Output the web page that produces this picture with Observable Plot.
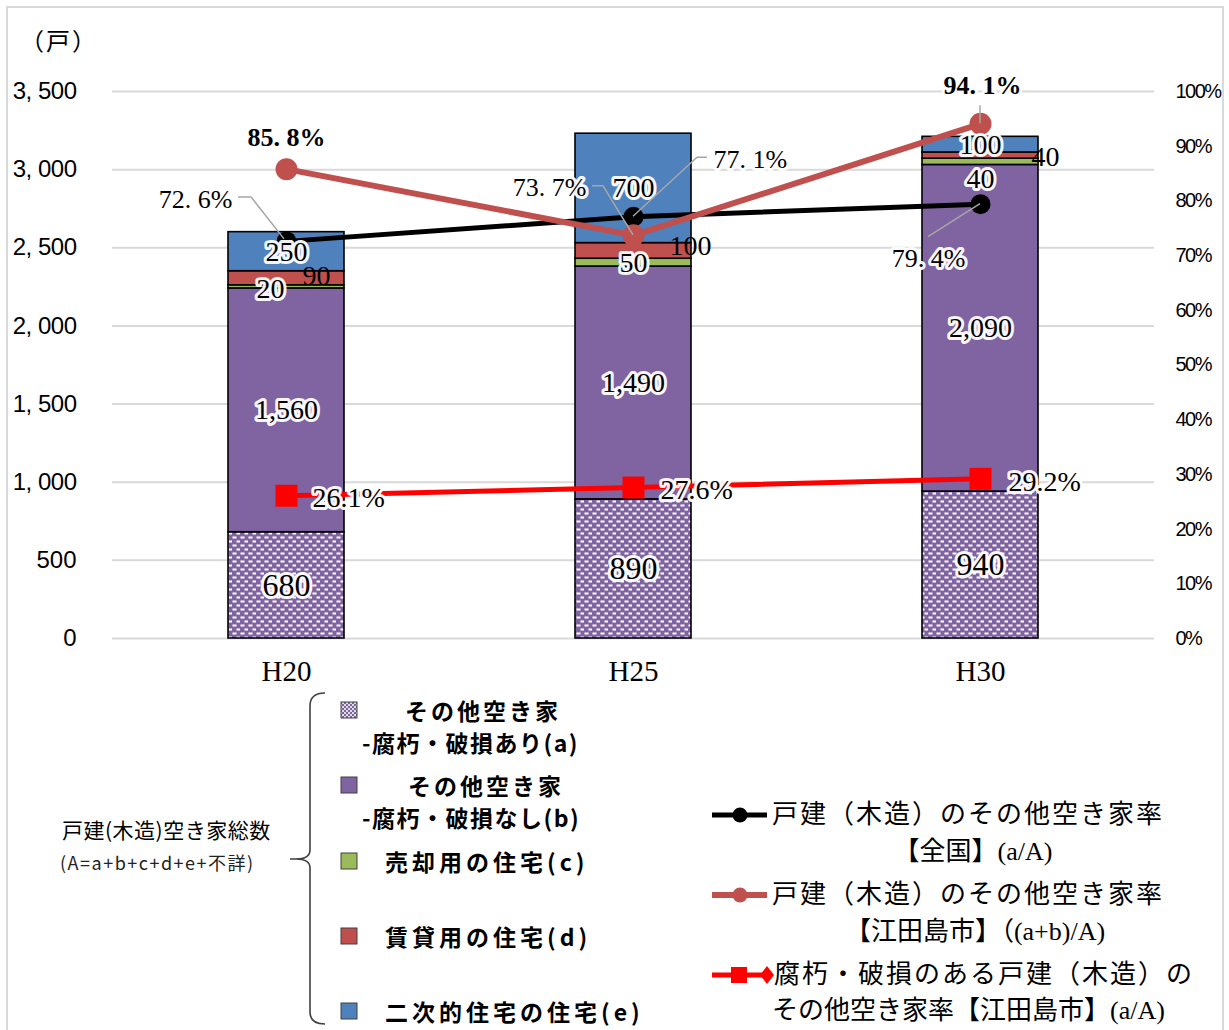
<!DOCTYPE html>
<html><head><meta charset="utf-8">
<script src="https://cdn.jsdelivr.net/npm/d3@7"></script>
<script src="https://cdn.jsdelivr.net/npm/@observablehq/plot@0.6"></script>
<style>
body{margin:0;background:#fff;}
#page{position:relative;width:1229px;height:1030px;overflow:hidden;background:#fff;}
#frame{position:absolute;left:6px;top:6px;width:1218px;height:1040px;border:2px solid #d9d9d9;box-sizing:border-box;}
#chart{position:absolute;left:0;top:0;}
#legendSvg{position:absolute;left:0;top:0;}
.t{position:absolute;white-space:nowrap;line-height:1;color:#000;}
</style></head>
<body><div id="page"><div id="frame"></div><div id="chart"></div><svg id="legendSvg" width="1229" height="1030"></svg></div>
<script>
// ---------------- data ----------------
const years = ["H20", "H25", "H30"];
const categories = ["a", "b", "c", "d", "e"];
const rottenVacant = [680, 890, 940];        // (a)
const otherVacant = [1560, 1490, 2090];      // (b)
const forSale = [20, 50, 40];                // (c)
const forRent = [90, 100, 40];               // (d)
const secondary = [250, 700, 100];           // (e)
const rateNational = [72.6, 77.1, 79.4];     // 全国 (a/A)
const rateEtajima = [85.8, 73.7, 94.1];      // 江田島市 ((a+b)/A)
const rateRotten = [26.1, 27.6, 29.2];       // 江田島市 (a/A)
const yTicks = [0, 500, 1000, 1500, 2000, 2500, 3000, 3500];
const pctTicks = [0, 10, 20, 30, 40, 50, 60, 70, 80, 90, 100];
const unitLabel = "（戸）";
const groupLabel = ["戸建(木造)空き家総数", "(A=a+b+c+d+e+不詳)"];
const barLegend = [
  ["その他空き家", "-腐朽・破損あり(a)"],
  ["その他空き家", "-腐朽・破損なし(b)"],
  ["売却用の住宅(c)"],
  ["賃貸用の住宅(d)"],
  ["二次的住宅の住宅(e)"]
];
const lineLegend = [
  ["戸建（木造）のその他空き家率", "【全国】(a/A)"],
  ["戸建（木造）のその他空き家率", "【江田島市】（(a+b)/A)"],
  ["腐朽・破損のある戸建（木造）の", "その他空き家率【江田島市】(a/A)"]
];

// ---------------- styles ----------------
const SERIF = '"Liberation Serif","DejaVu Serif","Noto Sans CJK JP",serif';
const SANSN = '"Liberation Sans Narrow","Liberation Sans","Noto Sans CJK JP",sans-serif';
const CJK = '"Noto Sans CJK JP",sans-serif';
const PCT = 35; // 3500 units on left axis == 100% on right axis
const barColors = ["url(#dots)", "#8064A2", "#9BBB59", "#C0504D", "#4F81BD"];
const lineColors = ["#000000", "#C0504D", "#FF0000"];
const lineWidths = [5, 6, 5];
const markerR = [10, 11, 12.4];
const markerSym = ["circle", "circle", "square"];
const barLabelNudge = {
  "H20|c": {dx: -16, dy: 2}, "H20|d": {dx: 30, dy: -2, halo: false},
  "H25|d": {dx: 57, dy: -5, halo: false},
  "H30|c": {dx: 0, dy: 17}, "H30|d": {dx: 65, dy: 1, halo: false}
};
const pctPlacement = [
  [{dx: -54, dy: -42, a: "end"}, {dx: 80, dy: -57, a: "start"}, {dx: -52, dy: 54, a: "middle"}],
  [{dx: 0, dy: -32, a: "middle", b: true}, {dx: -47, dy: -48, a: "end"}, {dx: 2, dy: -38, a: "middle", b: true}],
  [{dx: 26, dy: 2, a: "start"}, {dx: 27, dy: 3, a: "start"}, {dx: 28, dy: 3, a: "start"}]
];
const leaders = [
  {s: 0, i: 0, pts: [[-48, -44], [-35, -44], [-2, -2]]},
  {s: 1, i: 1, pts: [[-41, -49], [-30, -49], [0, 0]]},
  {s: 0, i: 1, pts: [[74, -59], [64, -59], [0, 0]]},
  {s: 1, i: 2, pts: [[0, -18], [0, 0]]},
  {s: 0, i: 2, pts: [[-52, 33], [0, 0]]}
];

// ---------------- build rows ----------------
const barSeries = [rottenVacant, otherVacant, forSale, forRent, secondary];
const rows = [];
years.forEach((yr, i) => {
  let base = 0;
  categories.forEach((c, k) => {
    const v = barSeries[k][i];
    rows.push({year: yr, cat: c, value: v, mid: base + v / 2});
    base += v;
  });
});
const rateSeries = [rateNational, rateEtajima, rateRotten];
const lineRows = rateSeries.map(vals => years.map((yr, i) => ({year: yr, pct: vals[i]})));

const fmtComma = d3.format(",");
const marks = [
  Plot.gridY(yTicks, {stroke: "#d9d9d9", strokeOpacity: 1, strokeWidth: 2}),
  Plot.barY(rows, {x: "year", y: "value", fill: "cat", stroke: "#000", strokeWidth: 1.6}),
  Plot.axisY({ticks: yTicks, tickSize: 0, tickPadding: 36, label: null,
    tickFormat: d => fmtComma(d).replace(",", ", "), fontSize: 24, fontFamily: SANSN}),
  Plot.axisY({anchor: "right", ticks: pctTicks.map(p => p * PCT), tickSize: 0, tickPadding: 21, label: null,
    tickFormat: d => Math.round(d / PCT) + "%", fontSize: 20, fontFamily: SANSN}),
  Plot.axisX({tickSize: 0, tickPadding: 22, label: null, fontSize: 29, fontFamily: SERIF})
];
lineRows.forEach((lr, s) => {
  marks.push(Plot.line(lr, {x: "year", y: d => d.pct * PCT, stroke: lineColors[s], strokeWidth: lineWidths[s]}));
  marks.push(Plot.dot(lr, {x: "year", y: d => d.pct * PCT, r: markerR[s], fill: lineColors[s], symbol: markerSym[s]}));
});
rows.forEach(r => {
  const n = barLabelNudge[r.year + "|" + r.cat] || {dx: 0, dy: 0};
  const halo = n.halo !== false;
  marks.push(Plot.text([r], {
    x: "year", y: "mid", text: d => fmtComma(d.value), dx: n.dx, dy: n.dy,
    fontSize: r.cat === "a" ? 32 : 28, fontFamily: SERIF, fill: "#000",
    stroke: halo ? "white" : "none", strokeWidth: halo ? 6 : 0, strokeOpacity: 0.95, paintOrder: "stroke", strokeLinejoin: "round"
  }));
});
lineRows.forEach((lr, s) => {
  lr.forEach((d, i) => {
    const p = pctPlacement[s][i];
    const txt = s === 2 ? d3.format(".1f")(d.pct) + "%" : d3.format(".1f")(d.pct).replace(".", ". ") + "%";
    marks.push(Plot.text([d], {
      x: "year", y: dd => dd.pct * PCT, text: () => txt, dx: p.dx, dy: p.dy, textAnchor: p.a,
      fontSize: s === 2 ? 28 : 26, fontWeight: p.b ? "bold" : "normal", fontFamily: SERIF, fill: "#000",
      stroke: "white", strokeWidth: 6, strokeOpacity: 0.95, paintOrder: "stroke", strokeLinejoin: "round"
    }));
  });
});

const plot = Plot.plot({
  width: 1229, height: 700,
  marginLeft: 112, marginRight: 75, marginTop: 91, marginBottom: 62,
  x: {domain: years, paddingInner: 0.666, paddingOuter: 0.334, axis: null},
  y: {domain: [0, 3500], axis: null},
  color: {domain: categories, range: barColors},
  style: {fontFamily: SERIF, color: "#000", background: "transparent", overflow: "visible"},
  marks
});
// pattern for (a)
const svg = d3.select(plot);
const defs = svg.insert("defs", ":first-child");
const pat = defs.append("pattern").attr("id", "dots").attr("patternUnits", "userSpaceOnUse").attr("width", 8).attr("height", 8);
pat.append("rect").attr("width", 8).attr("height", 8).attr("fill", "#8064A2");
pat.append("rect").attr("x", 0.5).attr("y", 0.5).attr("width", 4).attr("height", 2).attr("fill", "#fff");
pat.append("rect").attr("x", 4.5).attr("y", 4.5).attr("width", 4).attr("height", 2).attr("fill", "#fff");
// condense axis tick label texts a little
svg.selectAll("text").filter(function () { return /^\d+%$/.test(this.textContent); }).style("letter-spacing", "-1.5px");
svg.selectAll("text").filter(function () { return /^\d, \d{3}$/.test(this.textContent); }).style("letter-spacing", "-0.5px");
document.getElementById("chart").appendChild(plot);

// leader lines through the plot's scales
const sx = plot.scale("x"), sy = plot.scale("y");
const gL = svg.append("g").attr("fill", "none").attr("stroke", "#a6a6a6").attr("stroke-width", 1.5);
leaders.forEach(L => {
  const cx = sx.apply(years[L.i]) + sx.bandwidth / 2;
  const cy = sy.apply(rateSeries[L.s][L.i] * PCT);
  gL.append("polyline").attr("points", L.pts.map(p => (cx + p[0]) + "," + (cy + p[1])).join(" "));
});

// ---------------- legend & texts ----------------
const page = document.getElementById("page");
function txt(s, x, y, o = {}) {
  const el = document.createElement("div");
  el.className = "t";
  el.textContent = s;
  el.style.left = x + "px"; el.style.top = y + "px";
  el.style.fontFamily = o.font || CJK;
  el.style.fontSize = (o.size || 22) + "px";
  el.style.fontWeight = o.weight || "normal";
  el.style.letterSpacing = (o.ls || 0) + "px";
  if (o.color) el.style.color = o.color;
  el.style.transform = o.center ? "translate(-50%,-50%)" : "translate(0,-50%)";
  page.appendChild(el);
}
txt(unitLabel, 20, 40, {size: 24, ls: 2});

const lg = d3.select("#legendSvg");
const ldefs = lg.append("defs");
const p2 = ldefs.append("pattern").attr("id", "dots2").attr("patternUnits", "userSpaceOnUse").attr("width", 4).attr("height", 4);
p2.append("rect").attr("width", 4).attr("height", 4).attr("fill", "#8064A2");
p2.append("rect").attr("width", 2).attr("height", 2).attr("fill", "#ddd");
p2.append("rect").attr("x", 2).attr("y", 2).attr("width", 2).attr("height", 2).attr("fill", "#ddd");
lg.append("path").attr("d", "M325,693 Q310,693 310,706 L310,850 Q310,859 296,859 L290,859 M296,859 Q310,859 310,868 L310,1012 Q310,1024 325,1024")
  .attr("fill", "none").attr("stroke", "#404040").attr("stroke-width", 1.6);

const legendSwatchFill = ["url(#dots2)", "#8064A2", "#9BBB59", "#C0504D", "#4F81BD"];
const squareY = [710, 785, 861, 936, 1011];
squareY.forEach((y, k) => {
  lg.append("rect").attr("x", 341).attr("y", y - 8).attr("width", 16).attr("height", 16)
    .attr("fill", legendSwatchFill[k]).attr("stroke", "#404040").attr("stroke-width", 1);
});
txt(barLegend[0][0], 405, 710, {weight: "bold", size: 23, ls: 3});
txt(barLegend[0][1], 362, 742, {weight: "bold", size: 23, ls: 1.5});
txt(barLegend[1][0], 408, 785, {weight: "bold", size: 23, ls: 3});
txt(barLegend[1][1], 362, 817, {weight: "bold", size: 23, ls: 1.5});
txt(barLegend[2][0], 385, 861, {weight: "bold", size: 23, ls: 4});
txt(barLegend[3][0], 385, 936, {weight: "bold", size: 23, ls: 4});
txt(barLegend[4][0], 385, 1011, {weight: "bold", size: 23, ls: 4});
txt(groupLabel[0], 62, 829, {size: 21, ls: 0.5});
txt(groupLabel[1], 60, 862, {size: 18, ls: 1.5, color: "#222"});

const swY = [815, 895, 975];
swY.forEach((y, s) => {
  lg.append("line").attr("x1", 712).attr("x2", 767).attr("y1", y).attr("y2", y)
    .attr("stroke", lineColors[s]).attr("stroke-width", lineWidths[s]);
  if (s < 2) {
    lg.append("circle").attr("cx", 740).attr("cy", y).attr("r", 7.5).attr("fill", lineColors[s]);
  } else {
    lg.append("rect").attr("x", 731).attr("y", y - 8).attr("width", 16).attr("height", 16).attr("fill", lineColors[s]);
    lg.append("path").attr("d", `M767,${y - 9} L774,${y} L767,${y + 9} L760,${y} Z`).attr("fill", lineColors[s]);
  }
});
txt(lineLegend[0][0], 772, 815, {font: SERIF, size: 26, ls: 2});
txt(lineLegend[0][1], 973, 852, {font: SERIF, size: 26, center: true});
txt(lineLegend[1][0], 772, 895, {font: SERIF, size: 26, ls: 2});
txt(lineLegend[1][1], 975, 932, {font: SERIF, size: 26, center: true});
txt(lineLegend[2][0], 774, 975, {font: SERIF, size: 26, ls: 2});
txt(lineLegend[2][1], 772, 1011, {font: SERIF, size: 26, ls: 0});
</script>
</body></html>
